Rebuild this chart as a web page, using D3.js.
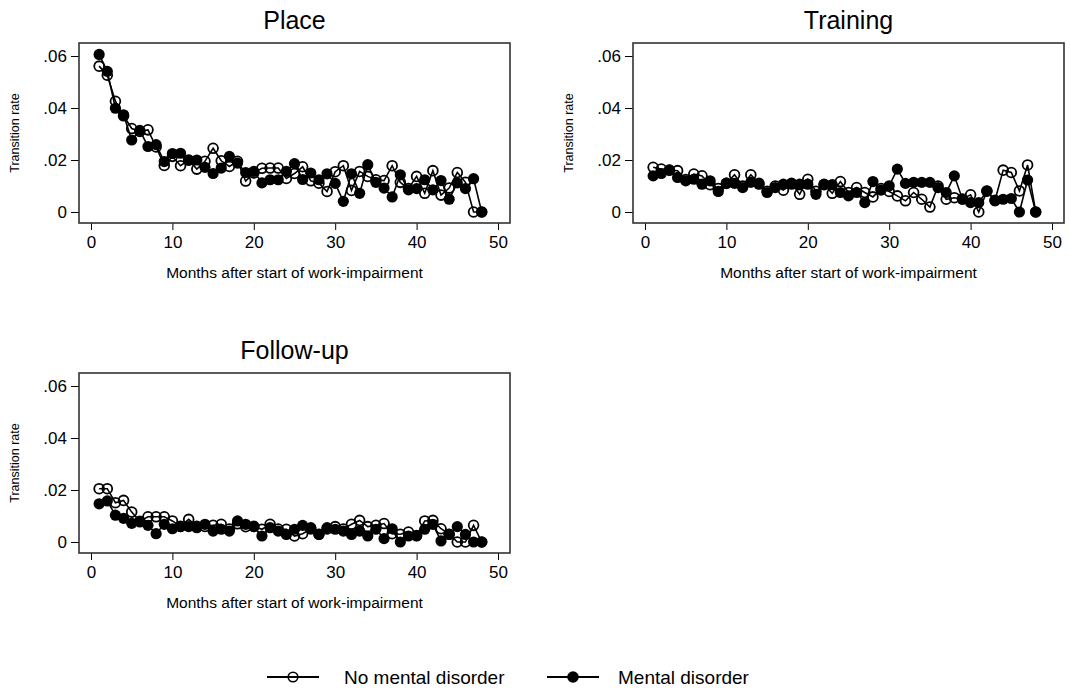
<!DOCTYPE html>
<html>
<head>
<meta charset="utf-8">
<script src="https://cdn.jsdelivr.net/npm/d3@7"></script>
<style>
  body { margin: 0; background: #fff; }
  svg { font-family: "Liberation Sans", Arial, sans-serif; }
</style>
</head>
<body>
<div class="chart"></div>
<script>
const months = [1, 2, 3, 4, 5, 6, 7, 8, 9, 10, 11, 12, 13, 14, 15, 16, 17, 18, 19, 20, 21, 22, 23, 24,
  25, 26, 27, 28, 29, 30, 31, 32, 33, 34, 35, 36, 37, 38, 39, 40, 41, 42, 43, 44, 45, 46, 47, 48];
const xTicks = [0, 10, 20, 30, 40, 50];
const yTicks = [0, 0.02, 0.04, 0.06];
const seriesNames = ["No mental disorder", "Mental disorder"];

const placeNoMental = [.0561, .0526, .0426, .037, .0321, .031, .0316, .025, .0179, .0214, .0178, .020,
  .0165, .0195, .0245, .0197, .0175, .0195, .0119, .015, .0168, .0169, .0169, .0129,
  .0148, .0174, .012, .0111, .0079, .0155, .0178, .0083, .0156, .0137, .0124, .0121,
  .0178, .0114, .009, .0137, .0072, .0159, .0065, .0092, .0152, .0114, 0, 0];
const placeMental = [.0606, .0541, .0399, .0374, .0277, .0314, .0252, .0259, .0194, .0225, .0226, .0199,
  .020, .0172, .0148, .0169, .0214, .0188, .0152, .0156, .0112, .0124, .0124, .0156,
  .0186, .0125, .015, .0124, .0147, .011, .0041, .0147, .0072, .0182, .0114, .0092,
  .0058, .0143, .0085, .009, .0124, .0085, .0121, .0049, .0112, .009, .0128, 0];

const trainingNoMental = [.0172, .0165, .0161, .0159, .0125, .0146, .0139, .0105, .009, .011, .0143, .010,
  .0143, .011, .008, .010, .0084, .011, .0068, .0126, .008, .0105, .0072, .0117,
  .0075, .0094, .0075, .0058, .009, .0079, .0062, .0043, .0075, .0049, .0019, .010,
  .0049, .0055, .005, .0066, 0, .008, .0045, .0161, .0152, .0081, .0181, 0];
const trainingMental = [.0139, .0148, .0161, .0133, .012, .0126, .0107, .012, .0079, .0111, .011, .0094,
  .0114, .0107, .0075, .0094, .0107, .0107, .0107, .0107, .0068, .0107, .0105, .0075,
  .0062, .0075, .0036, .0117, .0084, .0101, .0165, .011, .0114, .0114, .0114, .0094,
  .0075, .0139, .0049, .0036, .0036, .0081, .0043, .0049, .0052, 0, .0123, 0];

const followNoMental = [.0205, .0205, .0151, .016, .0115, .008, .0097, .0097, .0097, .0081, .006, .0087,
  .006, .006, .0064, .0068, .005, .007, .0059, .006, .0049, .0068, .005, .0049,
  .0023, .0032, .005, .003, .005, .0059, .005, .0068, .0083, .0059, .0064, .0071,
  .0032, .003, .0038, .0025, .0081, .0083, .0051, .003, 0, 0, .0064, 0];
const followMental = [.0147, .0158, .0103, .0091, .0072, .0077, .0064, .0032, .0068, .0051, .0059, .0059,
  .0055, .0068, .0042, .0049, .0042, .0081, .0068, .0059, .0023, .0055, .0042, .0029,
  .0049, .0064, .0055, .0029, .0055, .0049, .0042, .0029, .0042, .0023, .0049, .0013,
  .0051, 0, .0023, .0023, .0049, .0068, .0004, .0029, .0059, .0029, 0, 0];

const width = 1070;
const height = 688;
const boxW = 431;
const boxH = 180;

const svg = d3.select(".chart")
  .append("svg")
  .attr("width", width)
  .attr("height", height);

const x = d3.scaleLinear().domain([0, 50]).range([12, 419]);
const y = d3.scaleLinear().domain([0, 0.06]).range([boxH - 11, 13]);

const fmtY = d => d === 0 ? "0" : d3.format(".2f")(d).replace(/^0/, "");

const drawSeries = (g, values, filled) => {
  const pts = months.map((m, i) => ({ m: m, v: values[i] }));
  const line = d3.line().x(d => x(d.m)).y(d => y(d.v));

  g.append("path")
    .datum(pts)
    .attr("d", line)
    .attr("fill", "none")
    .attr("stroke", "#000")
    .attr("stroke-width", 1.6);

  g.selectAll(null)
    .data(pts)
    .enter()
    .append("circle")
    .attr("cx", d => x(d.m))
    .attr("cy", d => y(d.v))
    .attr("r", filled ? 5.6 : 4.9)
    .attr("fill", filled ? "#000" : "none")
    .attr("stroke", "#000")
    .attr("stroke-width", filled ? 0 : 1.8);
}

const drawPanel = (left, top, title, noMental, mental) => {
  const g = svg.append("g")
    .attr("transform", `translate(${left},${top})`);

  g.append("text")
    .attr("x", boxW / 2)
    .attr("y", -14)
    .attr("text-anchor", "middle")
    .attr("font-size", 25)
    .text(title);

  // axes hang off the box edges
  g.append("g")
    .attr("transform", `translate(0,${boxH})`)
    .call(d3.axisBottom(x).tickValues(xTicks).tickSize(7).tickPadding(6))
    .call(a => a.select(".domain").remove())
    .call(a => a.selectAll("text").attr("font-size", 17).attr("font-family", null).attr("fill", "#000"))
    .call(a => a.selectAll("line").attr("stroke", "#000"));

  g.append("g")
    .call(d3.axisLeft(y).tickValues(yTicks).tickFormat(fmtY).tickSize(8).tickPadding(4))
    .call(a => a.select(".domain").remove())
    .call(a => a.selectAll("text").attr("font-size", 17).attr("font-family", null).attr("fill", "#000"))
    .call(a => a.selectAll("line").attr("stroke", "#000"));

  g.append("text")
    .attr("x", boxW / 2)
    .attr("y", boxH + 55)
    .attr("text-anchor", "middle")
    .attr("font-size", 15.5)
    .text("Months after start of work-impairment");

  g.append("text")
    .attr("transform", `translate(-60,${boxH / 2}) rotate(-90)`)
    .attr("text-anchor", "middle")
    .attr("font-size", 12.5)
    .text("Transition rate");

  const plot = g.append("g");
  drawSeries(plot, noMental, false);
  drawSeries(plot, mental, true);

  g.append("rect")
    .attr("width", boxW)
    .attr("height", boxH)
    .attr("fill", "none")
    .attr("stroke", "#333")
    .attr("stroke-width", 1.6);
}

drawPanel(79, 43, "Place", placeNoMental, placeMental);
drawPanel(633, 43, "Training", trainingNoMental, trainingMental);
drawPanel(79, 373, "Follow-up", followNoMental, followMental);

// legend
const legend = svg.append("g");
const legendItems = [
  { name: seriesNames[0], x0: 267, filled: false, tx: 344 },
  { name: seriesNames[1], x0: 547, filled: true, tx: 618 }
];
legendItems.forEach(d => {
  legend.append("line")
    .attr("x1", d.x0).attr("x2", d.x0 + 52)
    .attr("y1", 677).attr("y2", 677)
    .attr("stroke", "#000")
    .attr("stroke-width", 1.8);
  legend.append("circle")
    .attr("cx", d.x0 + 26).attr("cy", 677)
    .attr("r", d.filled ? 5.8 : 4.8)
    .attr("fill", "none")
    .attr("fill", d.filled ? "#000" : "none")
    .attr("stroke", "#000")
    .attr("stroke-width", d.filled ? 0 : 1.6);
  legend.append("text")
    .attr("x", d.tx)
    .attr("y", 684)
    .attr("font-size", 19)
    .text(d.name);
});
</script>
</body>
</html>
